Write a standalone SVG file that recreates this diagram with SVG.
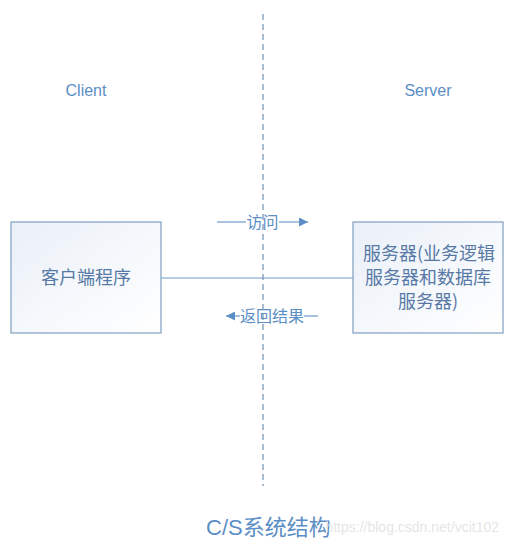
<svg xmlns="http://www.w3.org/2000/svg" width="507" height="545" viewBox="0 0 507 545">
<style>
.lbl{font-family:"Liberation Sans","Noto Sans CJK SC",sans-serif;fill:#5b8ec6;}
.box{stroke:#7f9fc2;stroke-width:1.2;fill:url(#g);}
.cn{font-family:"Noto Sans CJK SC","Liberation Sans",sans-serif;font-size:18px;fill:#5779a6;text-anchor:middle;}
.conn{stroke:#6e9ccc;stroke-width:1.2;fill:none;}
</style>
<defs>
<linearGradient id="g" x1="0" y1="0" x2="1" y2="1">
<stop offset="0" stop-color="#eaf0f8"/>
<stop offset="1" stop-color="#ffffff"/>
</linearGradient>
<marker id="ah" viewBox="0 0 10 10" refX="10" refY="5" markerWidth="9" markerHeight="9" markerUnits="userSpaceOnUse" orient="auto">
<path d="M0,0 L10,5 L0,10 z" fill="#5b8ec6"/>
</marker>
</defs>
<rect width="507" height="545" fill="#ffffff"/>
<g id="divider">
<line x1="263" y1="14" x2="263" y2="486" stroke="#a9bccf" stroke-width="2" stroke-dasharray="6,4"/>
</g>
<g id="client-label"><text class="lbl" x="86" y="96" font-size="16" text-anchor="middle">Client</text></g>
<g id="server-label"><text class="lbl" x="428" y="96" font-size="16" text-anchor="middle">Server</text></g>
<g id="connectors">
<line class="conn" x1="161" y1="278" x2="353" y2="278"/>
<line class="conn" x1="217" y1="222" x2="246" y2="222"/>
<line class="conn" x1="279" y1="222" x2="308" y2="222" marker-end="url(#ah)"/>
<line class="conn" x1="240" y1="316" x2="226" y2="316" marker-end="url(#ah)"/>
<line class="conn" x1="304" y1="316" x2="318" y2="316"/>
<text class="lbl" x="262.5" y="228" font-size="16" text-anchor="middle" font-family="Noto Sans CJK SC">访问</text>
<text class="lbl" x="272" y="322" font-size="16" text-anchor="middle" font-family="Noto Sans CJK SC">返回结果</text>
</g>
<g id="client-node">
<rect class="box" x="11" y="222" width="150" height="111"/>
<text class="cn" x="86" y="284">客户端程序</text>
</g>
<g id="server-node">
<rect class="box" x="353" y="222" width="150" height="111"/>
<text class="cn" x="429" y="260">服务器(业务逻辑</text>
<text class="cn" x="428" y="284">服务器和数据库</text>
<text class="cn" x="428" y="308">服务器)</text>
</g>
<g id="title">
<text class="lbl" x="206" y="535" font-size="22" font-family="Noto Sans CJK SC">C/S系统结构</text>
</g>
<g id="watermark">
<text x="499" y="532" font-size="14" text-anchor="end" font-family="Liberation Sans,sans-serif" fill="#e2e2e2" fill-opacity="0.9">https://blog.csdn.net/vcit102</text>
</g>
</svg>
